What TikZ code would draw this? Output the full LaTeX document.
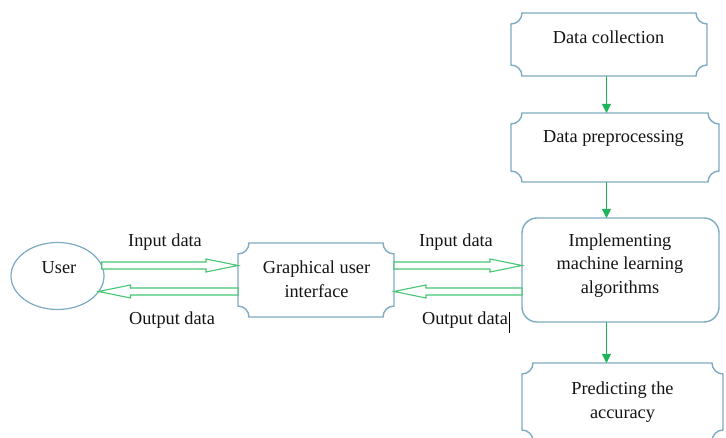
\documentclass[tikz,border=0pt]{standalone}
\usepackage{fontspec}
\setmainfont{Liberation Serif}
\usetikzlibrary{calc,arrows.meta,shapes.geometric}
\definecolor{boxblue}{RGB}{125,172,192}
\definecolor{flowgreen}{RGB}{30,180,90}
\definecolor{fatgreen}{RGB}{70,198,115}
\definecolor{txtcol}{RGB}{20,20,20}
\tikzset{
  boxline/.style={draw=boxblue,line width=1.4pt},
  holder/.style={inner sep=0pt,outer sep=0pt},
  txt/.style={inner sep=0pt,align=center,text=txtcol,font=\fontsize{18.3}{23.5}\selectfont},
  flow/.style={draw=flowgreen,line width=1pt,-{Triangle[length=9pt,width=9pt]}},
  fatline/.style={draw=fatgreen,line width=1.1pt,fill=white,line join=miter}
}
\newcommand\plaque[2][11pt]{%
  \draw[boxline] ($(#2.north west)+(#1,0)$) -- ($(#2.north east)+(-#1,0)$)
    arc[start angle=180,end angle=270,radius=#1]
    -- ($(#2.south east)+(0,#1)$)
    arc[start angle=90,end angle=180,radius=#1]
    -- ($(#2.south west)+(#1,0)$)
    arc[start angle=0,end angle=90,radius=#1]
    -- ($(#2.north west)+(0,-#1)$)
    arc[start angle=270,end angle=360,radius=#1] -- cycle;}
\newcommand\fatarr[2]{%
  \draw[fatline] let \p1=(#1), \p2=(#2), \n1={sign(\x2-\x1)} in
    (\x1,\y1+3.5pt) -- (\x2-\n1*32pt,\y1+3.5pt) -- (\x2-\n1*32pt,\y1+6.5pt)
    -- (\x2,\y1) -- (\x2-\n1*32pt,\y1-6.5pt) -- (\x2-\n1*32pt,\y1-3.5pt)
    -- (\x1,\y1-3.5pt) -- cycle;}
\begin{document}
\begin{tikzpicture}[x=1pt,y=1pt]
\useasboundingbox[fill=white] (0,0) rectangle (726,438);
% shapes
\node[holder,minimum width=196pt,minimum height=63pt] (dc) at (609,393.5) {};
\node[holder,minimum width=208pt,minimum height=69pt] (pp) at (615,290.5) {};
\node[holder,minimum width=201pt,minimum height=78pt] (pred) at (622.5,36) {};
\node[holder,minimum width=156pt,minimum height=74pt] (gui) at (316,158) {};
\node[boxline,rounded corners=15pt,holder,minimum width=197pt,minimum height=104pt] (impl) at (620.5,168) {};
\node[draw=boxblue,line width=1.2pt,ellipse,holder,minimum width=93pt,minimum height=67pt] (user) at (57.5,162) {};
\plaque{dc}
\plaque{pp}
\plaque{pred}
\plaque{gui}
% texts
\node[txt] (dct) at (608.5,401) {Data collection};
\node[txt] (ppt) at (613.5,300) {Data preprocessing};
\node[txt] (implt) at (620,172.5) {Implementing\\machine learning\\algorithms};
\node[txt] (predt) at (622.5,36) {Predicting the\\accuracy};
\node[txt] (guit) at (316.5,159) {Graphical user\\interface};
\node[txt] (usert) at (59,170) {User};
\node[txt] (inl) at (165,196) {Input data};
\node[txt] (outl) at (172,117.5) {Output data};
\node[txt] (inr) at (456,196) {Input data};
\node[txt] (outr) at (465,117.5) {Output data};
\draw[black,line width=1.2pt] ([xshift=1.5pt,yshift=0pt]outr.north east) -- ([xshift=1.5pt,yshift=-4pt]outr.south east);
% vertical flow
\coordinate (ax) at (606.5,0);
\draw[flow] (dc.south -| ax) -- (pp.north -| ax);
\draw[flow] (pp.south -| ax) -- (impl.north -| ax);
\draw[flow] (impl.south -| ax) -- (pred.north -| ax);
% double arrows
\coordinate (rowin) at (0,172.5);
\coordinate (rowout) at (0,146.5);
\fatarr{user.13 |- rowin}{gui.west |- rowin}
\fatarr{gui.west |- rowout}{user.-21 |- rowout}
\fatarr{gui.east |- rowin}{impl.west |- rowin}
\fatarr{impl.west |- rowout}{gui.east |- rowout}
\end{tikzpicture}
\end{document}
